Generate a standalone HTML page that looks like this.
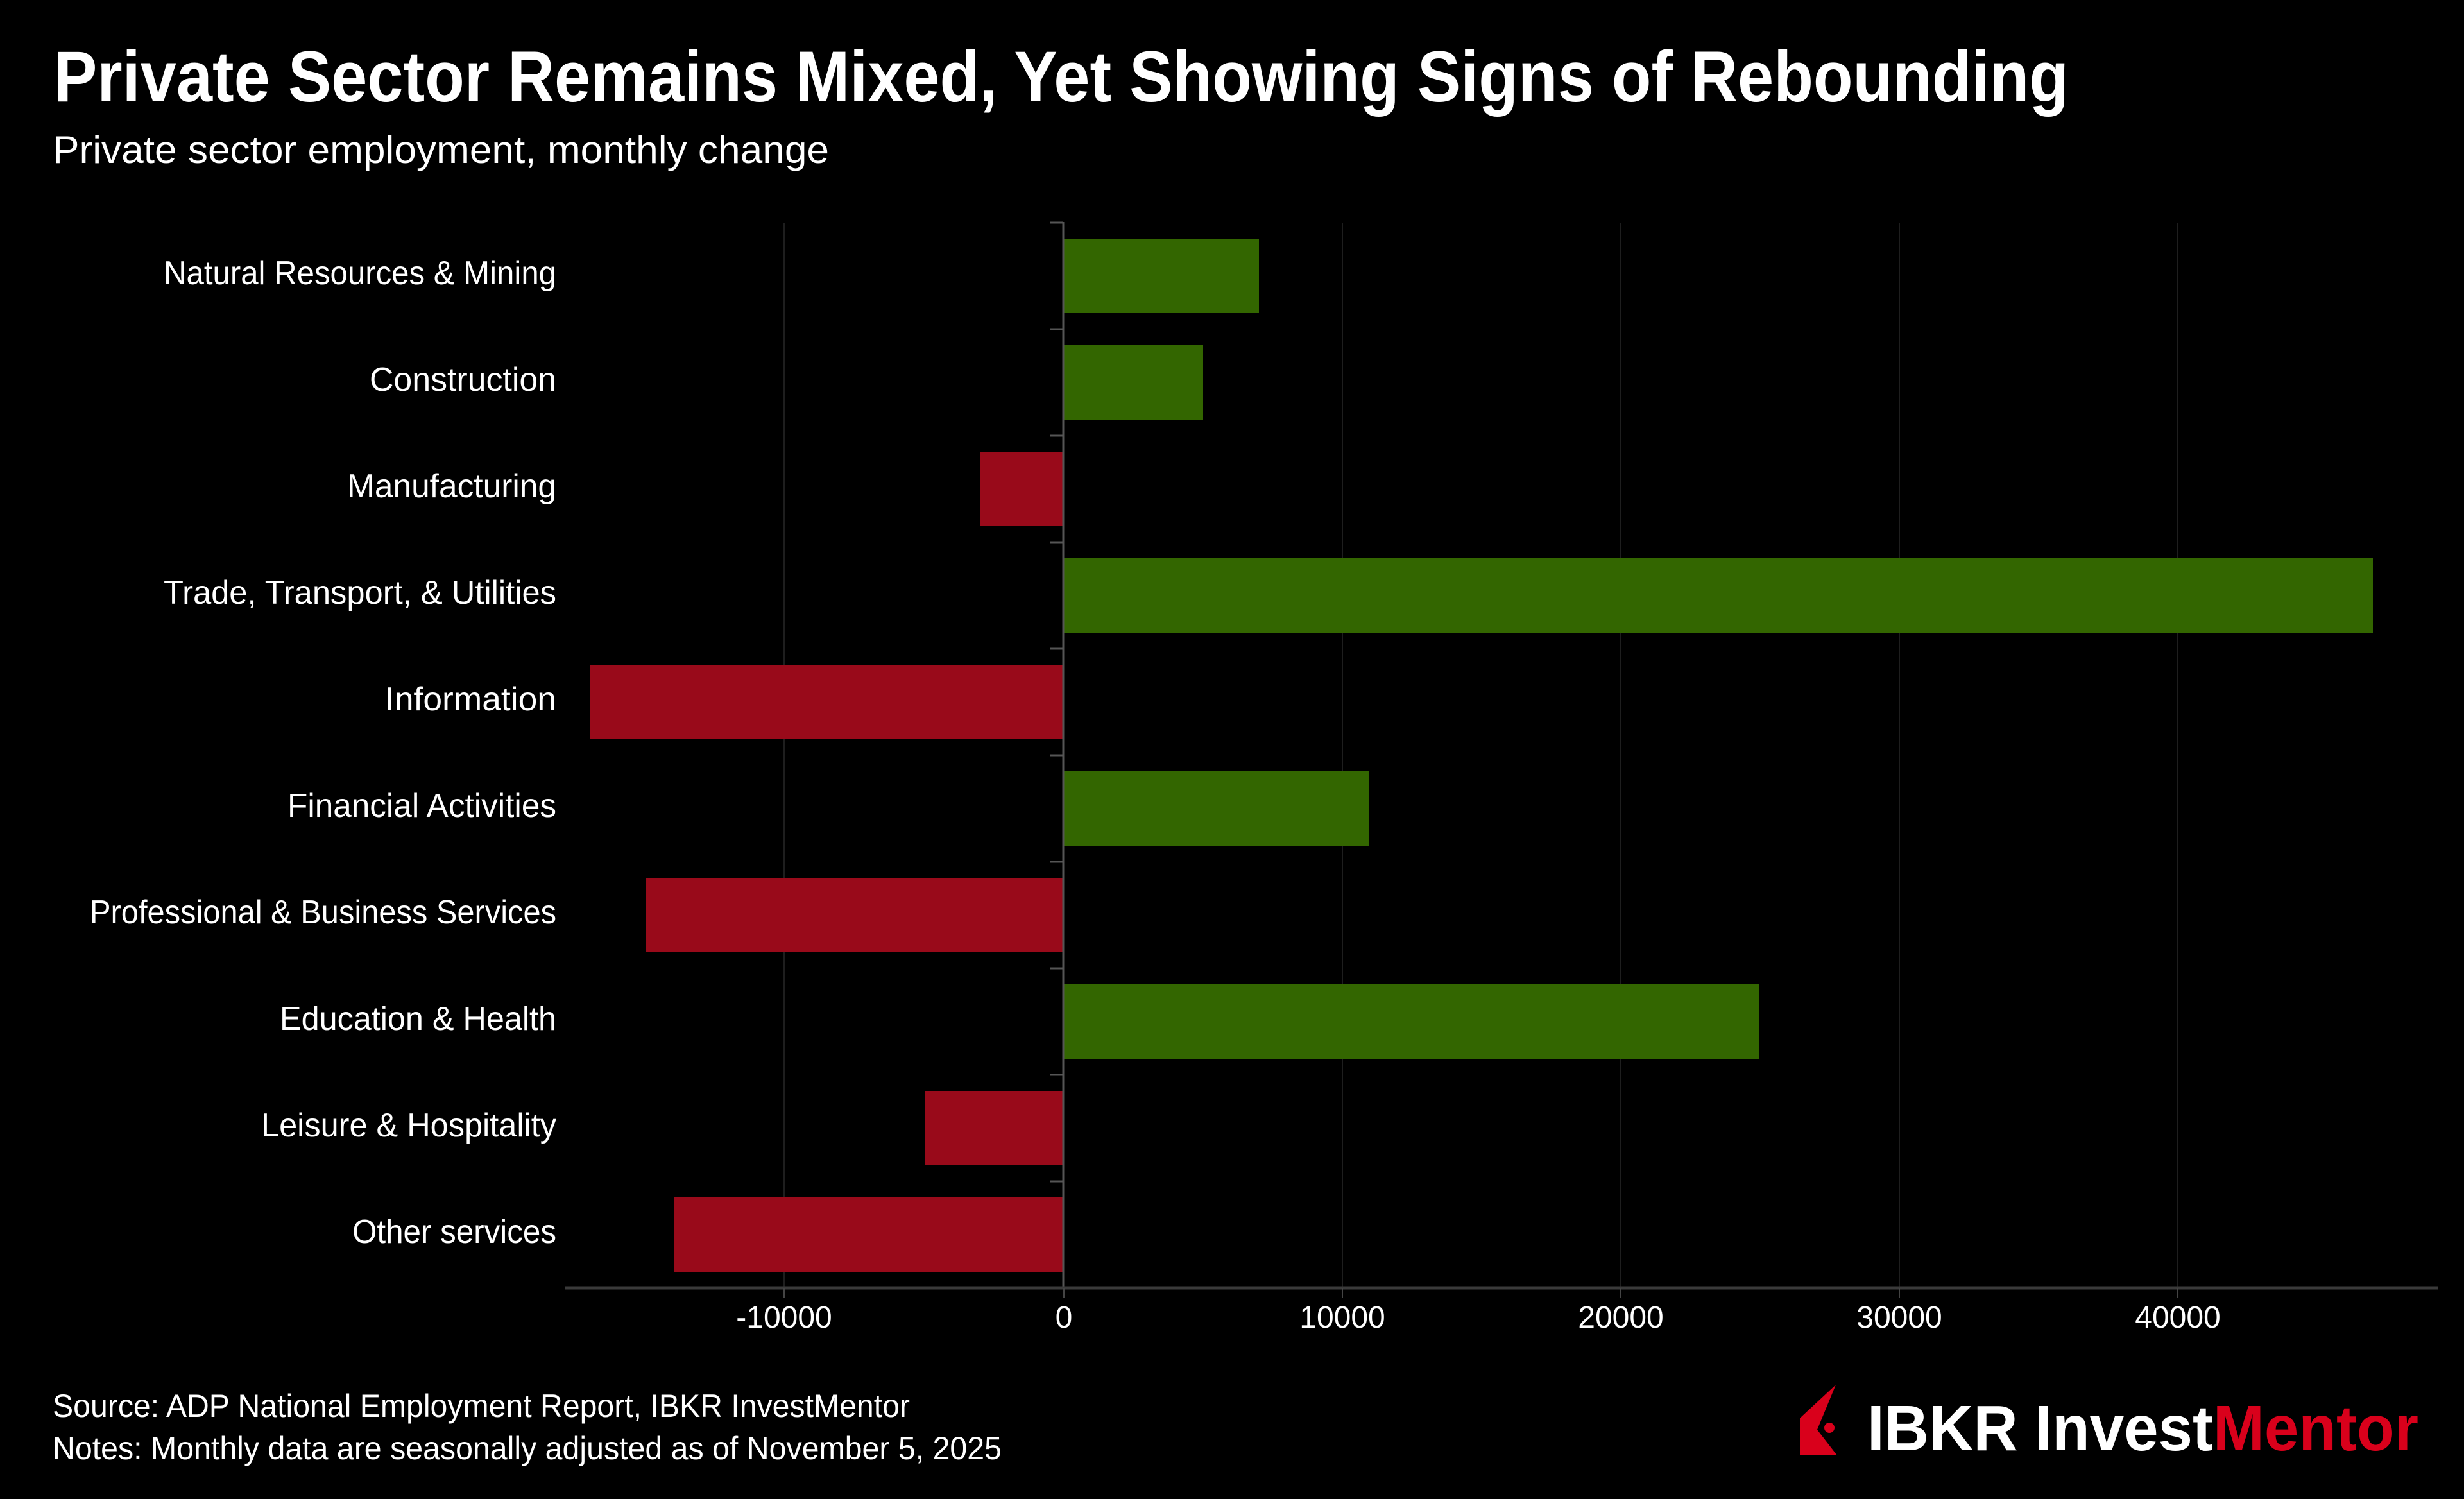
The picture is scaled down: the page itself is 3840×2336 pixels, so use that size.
<!DOCTYPE html>
<html><head><meta charset="utf-8"><style>html,body{margin:0;padding:0;background:#000}svg{display:block}</style></head>
<body>
<svg width="3840" height="2336" viewBox="0 0 3840 2336" xmlns="http://www.w3.org/2000/svg" font-family="'Liberation Sans', sans-serif">
<rect width="3840" height="2336" fill="#000"/>
<text x="84" y="158" font-size="112" font-weight="bold" fill="#fff" textLength="3140" lengthAdjust="spacingAndGlyphs">Private Sector Remains Mixed, Yet Showing Signs of Rebounding</text>
<text x="82" y="254" font-size="60" fill="#fff" textLength="1210" lengthAdjust="spacingAndGlyphs">Private sector employment, monthly change</text>
<g stroke="#1e1e1e" stroke-width="2">
<line x1="1222" y1="347" x2="1222" y2="2005"/>
<line x1="2092" y1="347" x2="2092" y2="2005"/>
<line x1="2526" y1="347" x2="2526" y2="2005"/>
<line x1="2960" y1="347" x2="2960" y2="2005"/>
<line x1="3394" y1="347" x2="3394" y2="2005"/>
</g>
<g>
<rect x="1658" y="372" width="304" height="116" fill="#336600"/>
<rect x="1658" y="538" width="217" height="116" fill="#336600"/>
<rect x="1528" y="704" width="130" height="116" fill="#990a1a"/>
<rect x="1658" y="870" width="2040" height="116" fill="#336600"/>
<rect x="920" y="1036" width="738" height="116" fill="#990a1a"/>
<rect x="1658" y="1202" width="475" height="116" fill="#336600"/>
<rect x="1006" y="1368" width="652" height="116" fill="#990a1a"/>
<rect x="1658" y="1534" width="1083" height="116" fill="#336600"/>
<rect x="1441" y="1700" width="217" height="116" fill="#990a1a"/>
<rect x="1050" y="1866" width="608" height="116" fill="#990a1a"/>
</g>
<line x1="1657" y1="346" x2="1657" y2="2005" stroke="#555" stroke-width="3"/>
<g stroke="#555" stroke-width="3">
<line x1="1636" y1="347" x2="1657" y2="347"/><line x1="1636" y1="513" x2="1657" y2="513"/><line x1="1636" y1="679" x2="1657" y2="679"/><line x1="1636" y1="845" x2="1657" y2="845"/><line x1="1636" y1="1011" x2="1657" y2="1011"/><line x1="1636" y1="1177" x2="1657" y2="1177"/><line x1="1636" y1="1343" x2="1657" y2="1343"/><line x1="1636" y1="1509" x2="1657" y2="1509"/><line x1="1636" y1="1675" x2="1657" y2="1675"/><line x1="1636" y1="1841" x2="1657" y2="1841"/>
</g>
<line x1="881" y1="2007" x2="3800" y2="2007" stroke="#3a3a3a" stroke-width="5"/>
<g stroke="#444" stroke-width="2">
<line x1="1222" y1="2007" x2="1222" y2="2022"/><line x1="1658" y1="2007" x2="1658" y2="2022"/><line x1="2092" y1="2007" x2="2092" y2="2022"/><line x1="2526" y1="2007" x2="2526" y2="2022"/><line x1="2960" y1="2007" x2="2960" y2="2022"/><line x1="3394" y1="2007" x2="3394" y2="2022"/>
</g>
<g font-size="48" fill="#fff" text-anchor="middle">
<text x="1222" y="2069">-10000</text><text x="1658" y="2069">0</text><text x="2092" y="2069">10000</text><text x="2526" y="2069">20000</text><text x="2960" y="2069">30000</text><text x="3394" y="2069">40000</text>
</g>
<g font-size="52" fill="#fff" text-anchor="end">
<text x="867" y="443" textLength="612" lengthAdjust="spacingAndGlyphs">Natural Resources &amp; Mining</text>
<text x="867" y="609" textLength="291" lengthAdjust="spacingAndGlyphs">Construction</text>
<text x="867" y="775" textLength="326" lengthAdjust="spacingAndGlyphs">Manufacturing</text>
<text x="867" y="941" textLength="612" lengthAdjust="spacingAndGlyphs">Trade, Transport, &amp; Utilities</text>
<text x="867" y="1107" textLength="267" lengthAdjust="spacingAndGlyphs">Information</text>
<text x="867" y="1273" textLength="419" lengthAdjust="spacingAndGlyphs">Financial Activities</text>
<text x="867" y="1439" textLength="727" lengthAdjust="spacingAndGlyphs">Professional &amp; Business Services</text>
<text x="867" y="1605" textLength="431" lengthAdjust="spacingAndGlyphs">Education &amp; Health</text>
<text x="867" y="1771" textLength="460" lengthAdjust="spacingAndGlyphs">Leisure &amp; Hospitality</text>
<text x="867" y="1937" textLength="318" lengthAdjust="spacingAndGlyphs">Other services</text>
</g>
<text x="82" y="2208" font-size="50" fill="#fff" textLength="1336" lengthAdjust="spacingAndGlyphs">Source: ADP National Employment Report, IBKR InvestMentor</text>
<text x="82" y="2274" font-size="50" fill="#fff" textLength="1479" lengthAdjust="spacingAndGlyphs">Notes: Monthly data are seasonally adjusted as of November 5, 2025</text>
<polygon points="2861,2158 2832,2228 2863,2268 2805,2268 2805,2210" fill="#d9001b"/>
<circle cx="2848" cy="2225" r="11" fill="#000"/>
<circle cx="2851" cy="2225" r="8" fill="#d9001b"/>
<text x="2910" y="2260" font-size="100" font-weight="bold" fill="#fff" textLength="859" lengthAdjust="spacingAndGlyphs">IBKR Invest<tspan fill="#d9001b">Mentor</tspan></text>
</svg>
</body></html>
